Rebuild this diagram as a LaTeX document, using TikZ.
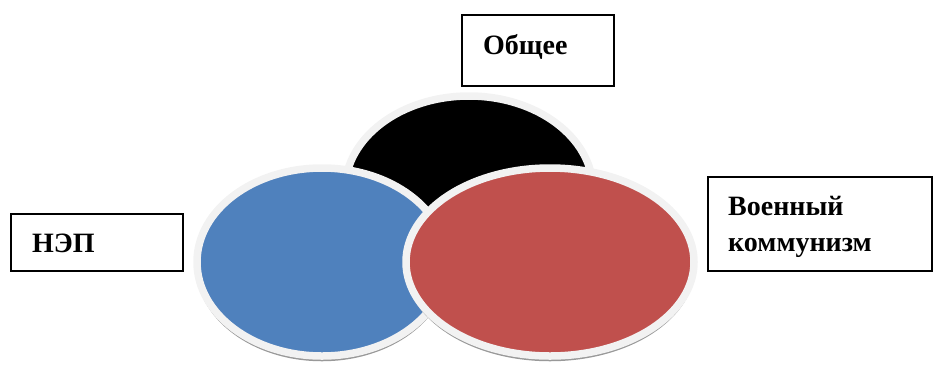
\documentclass[tikz,border=0pt]{standalone}
\usepackage{fontspec}
\setmainfont{Liberation Serif}
\definecolor{nepblue}{HTML}{4F81BD}
\definecolor{vkred}{HTML}{C0504D}
\definecolor{rimgray}{HTML}{F2F2F2}
\begin{document}
\begin{tikzpicture}[x=1pt,y=-1pt,
  box/.style={draw=black,line width=1.8pt,minimum width=#1,inner sep=0pt},
  lbl/.style={font=\fontsize{28}{36}\selectfont\bfseries,anchor=base west,inner sep=0pt,align=left},
  shadowring/.style={draw=black!40,line width=2.5pt},
  disc/.style={draw=rimgray,line width=7.5pt,fill=#1}]
\useasboundingbox (0,0) rectangle (934,368);
% black (common) ellipse
\draw[shadowring] (469,194) ellipse (124 and 94);
\draw[disc=black] (469,190) ellipse (124 and 94);
% blue ellipse
\draw[shadowring] (322,266) ellipse (125 and 94);
\draw[disc=nepblue] (322,262) ellipse (125 and 94);
% red ellipse
\draw[shadowring] (550,266) ellipse (144 and 94);
\draw[disc=vkred] (550,262) ellipse (144 and 94);
% boxes
\node[box=152pt,minimum height=71pt,anchor=north west] (b1) at (461,14) {};
\node[lbl] (t1) at (483,54) {Общее};
\node[box=172pt,minimum height=57pt,anchor=north west] (b2) at (10,213) {};
\node[lbl] (t2) at (32,252) {НЭП};
\node[box=224pt,minimum height=94pt,anchor=north west] (b3) at (707,176) {};
\node[lbl] (t3) at (728,251) {Военный\\коммунизм};
\end{tikzpicture}
\end{document}
